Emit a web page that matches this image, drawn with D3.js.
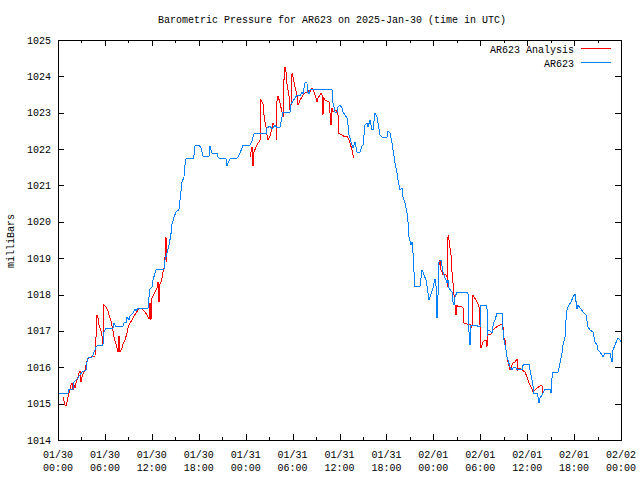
<!DOCTYPE html>
<html><head><meta charset="utf-8">
<script src="https://cdn.jsdelivr.net/npm/d3@7"></script>
<style>
body{margin:0;background:#fff}
svg{display:block}
text{font-family:"Liberation Mono","DejaVu Sans Mono",monospace;font-size:10px;fill:#000}
</style>
</head><body><svg id="c" width="640" height="480"></svg>
<script>
// ---- data (hours after 2025-01-30 00:00 UTC, pressure in mb) ----
const ar623Hours = [0.13,1.28,1.41,1.92,2.05,2.56,2.81,3.07,3.58,3.71,3.84,4.09,4.35,4.73,4.86,5.12,5.75,5.88,6.14,7.03,7.16,7.42,8.06,8.31,8.44,8.70,8.82,9.08,9.21,9.59,9.85,9.98,10.23,11.51,11.64,11.77,12.02,12.15,12.53,12.66,13.56,13.68,13.94,14.20,14.45,14.58,14.84,15.09,15.47,15.60,15.86,16.11,16.24,16.37,17.26,17.39,17.52,18.03,18.29,18.54,19.31,19.44,19.57,19.69,20.33,20.46,20.72,21.49,21.61,21.74,22.00,22.76,23.02,23.28,23.53,23.66,24.55,24.81,25.07,26.60,26.73,27.11,27.37,27.50,27.75,28.01,28.39,28.78,29.67,29.80,30.05,30.57,30.95,31.20,31.33,31.59,31.84,31.91,32.10,32.23,35.04,35.17,35.43,35.68,35.81,36.06,36.32,36.45,36.70,36.96,37.09,37.22,37.47,37.73,37.98,38.24,38.62,38.88,39.01,39.26,39.52,39.65,39.90,40.16,40.28,40.54,40.80,40.92,41.18,41.44,42.07,42.20,42.46,42.71,42.84,43.10,43.35,43.48,43.74,43.99,44.12,44.38,44.63,44.76,44.89,45.14,45.27,45.40,45.53,45.66,46.29,46.55,46.81,47.06,47.19,47.45,47.70,47.96,48.21,48.34,48.47,48.60,48.72,48.98,49.24,49.49,49.75,49.88,50.00,50.39,50.52,50.64,50.77,51.03,52.43,52.56,52.69,52.82,53.59,53.97,54.09,54.86,54.90,54.99,55.25,55.50,55.63,55.76,55.89,56.14,56.78,56.91,57.04,57.29,57.42,57.55,57.81,58.06,58.19,58.45,58.70,59.34,59.47,60.24,60.36,60.62,60.75,60.80,61.26,61.39,61.51,61.64,61.90,62.03,62.28,62.92,63.05,63.18,63.31,63.95,64.20,64.46,64.58,64.84,64.97,65.09,65.35,65.61,65.86,66.12,66.37,66.50,66.76,67.14,67.53,67.78,68.04,68.42,68.68,68.93,69.06,69.31,69.57,69.70,69.95,70.59,70.85,70.98,71.23,71.49,71.62,71.87,72.00];
const ar623Pressure = [1015.29,1015.29,1015.40,1015.40,1015.60,1015.71,1015.79,1015.87,1015.93,1016.15,1016.26,1016.28,1016.28,1016.48,1016.56,1016.61,1016.61,1016.97,1017.08,1017.08,1017.22,1017.11,1017.11,1017.14,1017.22,1017.22,1017.38,1017.30,1017.41,1017.49,1017.60,1017.55,1017.63,1017.63,1017.93,1018.15,1018.21,1018.40,1018.68,1018.70,1018.70,1018.95,1019.14,1019.36,1019.67,1019.94,1020.13,1020.27,1020.33,1020.60,1021.10,1021.23,1021.56,1021.73,1021.73,1021.84,1022.09,1022.11,1022.03,1021.81,1021.81,1022.09,1021.98,1021.89,1021.89,1021.78,1021.73,1021.73,1021.54,1021.62,1021.73,1021.73,1021.78,1021.89,1022.03,1022.11,1022.11,1022.22,1022.42,1022.42,1022.58,1022.64,1022.55,1022.58,1022.66,1022.58,1022.61,1023.02,1023.02,1023.24,1023.32,1023.49,1023.46,1023.57,1023.52,1023.82,1023.82,1023.57,1023.52,1023.63,1023.63,1023.27,1023.02,1023.02,1023.16,1023.21,1023.13,1023.02,1022.94,1022.86,1022.66,1022.39,1022.20,1022.03,1022.20,1021.92,1021.92,1022.09,1022.11,1022.66,1022.72,1022.61,1022.80,1022.53,1022.53,1022.99,1022.88,1022.72,1022.39,1022.33,1022.33,1022.50,1022.44,1022.17,1021.98,1021.62,1021.34,1021.15,1020.88,1020.93,1020.68,1020.52,1020.24,1020.00,1019.58,1019.36,1019.45,1019.14,1018.62,1018.21,1018.21,1018.68,1018.54,1018.40,1018.24,1017.85,1018.02,1018.18,1018.43,1018.26,1017.36,1017.99,1018.90,1018.95,1018.62,1018.46,1018.32,1018.40,1018.18,1018.07,1017.80,1017.71,1017.93,1018.07,1018.07,1016.97,1016.61,1017.16,1017.14,1017.11,1017.71,1017.71,1016.86,1017.00,1017.00,1016.94,1017.14,1017.25,1017.30,1017.49,1017.49,1017.03,1016.75,1016.48,1016.28,1016.20,1016.01,1015.93,1015.98,1016.01,1015.93,1015.93,1016.06,1016.09,1015.93,1015.65,1015.49,1015.29,1015.29,1015.18,1015.02,1015.16,1015.24,1015.29,1015.40,1015.40,1015.29,1015.73,1015.87,1015.87,1016.12,1016.39,1016.61,1016.83,1017.30,1017.58,1017.71,1017.80,1017.93,1018.02,1017.60,1017.71,1017.63,1017.52,1017.44,1017.11,1017.03,1016.97,1016.70,1016.61,1016.48,1016.42,1016.34,1016.28,1016.39,1016.39,1016.15,1016.48,1016.61,1016.75,1016.81,1016.75,1016.70];

const analysisHours1 = [0.64,0.90,1.02,1.15,1.28,1.53,1.66,1.79,1.92,2.05,2.17,2.30,2.56,2.69,2.81,2.94,3.07,3.20,3.45,3.58,3.71,3.84,3.96,4.22,4.73,4.86,4.99,5.12,5.24,5.50,5.63,5.75,5.88,6.14,6.39,6.52,6.78,7.03,7.16,7.42,7.67,7.80,7.93,8.18,8.31,8.57,8.82,8.95,9.21,9.46,9.72,9.98,10.23,10.49,10.74,11.13,11.38,11.64,11.77,11.89,12.02,12.15,12.41,12.66,12.79,12.92,12.98,13.17,13.30,13.43,13.56,13.68,13.81,13.87];
const analysisPressure1 = [1015.18,1014.96,1014.94,1015.05,1015.18,1015.38,1015.51,1015.57,1015.38,1015.51,1015.43,1015.57,1015.73,1015.84,1015.90,1015.60,1015.73,1015.82,1015.93,1016.06,1016.17,1016.23,1016.26,1016.28,1016.31,1016.83,1017.44,1017.36,1017.16,1017.00,1016.86,1016.64,1017.71,1017.66,1017.55,1017.44,1017.27,1017.00,1016.83,1016.64,1016.42,1016.86,1016.42,1016.53,1016.64,1016.75,1016.94,1017.08,1017.22,1017.30,1017.41,1017.49,1017.58,1017.63,1017.60,1017.52,1017.44,1017.33,1017.77,1017.30,1017.91,1017.96,1018.07,1018.18,1018.35,1017.80,1018.24,1018.35,1018.46,1018.62,1018.73,1019.01,1019.58,1018.90];
const analysisHours2 = [24.55,24.81,24.94,25.07,25.32,25.58,25.83,25.96,26.09,26.22,26.35,26.47,26.60,26.73,26.86,27.11,27.37,27.50,27.62,27.88,27.94,28.01,28.14,28.39,28.65,28.78,28.84,28.90,29.03,29.16,29.29,29.54,29.67,29.80,29.93,30.05,30.31,30.57,30.69,30.82,30.95,31.20,31.33,31.59,31.84,31.97,32.10,32.36,32.48,32.61,32.87,33.12,33.25,33.51,33.63,33.76,33.89,33.95,34.15,34.66,34.72,34.91,35.04,35.17,35.55,35.81,35.87,36.32,36.70,36.96,37.09,37.34,37.60,37.73,37.85];
const analysisPressure2 = [1021.78,1022.06,1021.54,1021.92,1022.06,1022.17,1022.22,1023.35,1023.30,1023.24,1022.94,1022.75,1022.61,1022.39,1022.25,1022.36,1022.58,1022.72,1022.66,1022.66,1022.25,1023.35,1023.46,1023.27,1023.02,1022.88,1023.13,1023.90,1024.26,1024.12,1023.79,1023.46,1023.08,1023.21,1024.09,1023.98,1023.71,1023.49,1023.21,1023.27,1023.35,1023.43,1023.49,1023.54,1023.57,1023.63,1023.52,1023.63,1023.68,1023.63,1023.49,1023.30,1023.41,1023.49,1023.54,1023.49,1022.94,1023.41,1023.35,1023.30,1023.19,1022.66,1023.13,1023.02,1023.08,1022.94,1022.44,1022.39,1022.33,1022.36,1022.31,1022.17,1021.98,1021.84,1021.76];
const analysisHours3 = [48.72,48.85,48.98,49.11,49.24,49.62,49.75,49.81,49.88,50.00,50.13,50.26,50.39,50.52,50.64,50.77,50.90,51.03,51.16,51.67,51.80,51.92,52.31,52.69,52.82,52.95,53.07,53.20,53.46,53.59,53.84,53.97,54.09,54.35,54.61,54.74,54.86,54.93,55.25,55.50,55.63,55.89,56.27,56.53,56.78,56.91,56.97,57.17,57.29,57.42,57.55,57.81,58.06,58.19,58.45,58.70,58.76,58.95,59.34,59.72,59.98,60.10,60.36,60.62,60.75,61.00,61.26,61.64,61.90,61.96];
const analysisPressure3 = [1018.81,1018.95,1018.68,1018.62,1018.54,1018.54,1018.48,1018.21,1019.64,1019.50,1019.28,1019.09,1018.62,1018.32,1017.99,1017.71,1017.44,1017.71,1017.66,1017.66,1017.63,1017.22,1017.19,1017.19,1017.08,1017.16,1017.99,1017.93,1017.85,1017.80,1017.66,1017.16,1016.53,1016.70,1016.75,1016.75,1016.56,1016.89,1016.89,1016.94,1017.03,1017.08,1017.14,1017.16,1017.19,1017.11,1016.83,1016.75,1016.48,1016.28,1016.15,1015.93,1016.06,1016.12,1016.15,1016.23,1015.93,1015.98,1015.93,1015.87,1015.73,1015.65,1015.51,1015.40,1015.32,1015.38,1015.43,1015.49,1015.49,1015.24];

const majorTickHours = [0,6,12,18,24,30,36,42,48,54,60,66,72];
const minorTickHours = [3,9,15,21,27,33,39,45,51,57,63,69];
const dateLabels = ["01/30","01/30","01/30","01/30","01/31","01/31","01/31","01/31","02/01","02/01","02/01","02/01","02/02"];
const timeLabels = ["00:00","06:00","12:00","18:00","00:00","06:00","12:00","18:00","00:00","06:00","12:00","18:00","00:00"];
const pressureTicks = [1014,1015,1016,1017,1018,1019,1020,1021,1022,1023,1024,1025];
const seriesNames = ["AR623 Analysis","AR623"];
const seriesColors = ["#ff0000","#0080ff"];
const titleText = "Barometric Pressure for AR623 on 2025-Jan-30 (time in UTC)";
const yAxisTitle = "milliBars";

// ---- drawing ----
const svg = d3.select("#c");
svg.append("rect").attr("width",640).attr("height",480).attr("fill","#fff");
const L=58,R=621,T=40,B=440;
const x = d3.scaleLinear().domain([0,72]).range([L,R]);
const y = d3.scaleLinear().domain([1014,1025]).range([B,T]);

function axisG(axis, tx, ty){
  const g = svg.append("g").attr("transform",`translate(${tx},${ty})`).call(axis);
  g.select(".domain").remove();
  g.selectAll("text").remove();
  g.selectAll("line").attr("stroke","#000").attr("shape-rendering","crispEdges");
  return g;
}
axisG(d3.axisBottom(x).tickValues(majorTickHours).tickSize(-6).tickFormat(""),0,B);
axisG(d3.axisBottom(x).tickValues(minorTickHours).tickSize(-3).tickFormat(""),0,B);
axisG(d3.axisTop(x).tickValues(majorTickHours).tickSize(-6).tickFormat(""),0,T);
axisG(d3.axisTop(x).tickValues(minorTickHours).tickSize(-3).tickFormat(""),0,T);
axisG(d3.axisLeft(y).tickValues(pressureTicks).tickSize(-6).tickFormat(""),L,0);
axisG(d3.axisRight(y).tickValues(pressureTicks).tickSize(-6).tickFormat(""),R,0);

svg.append("rect").attr("x",L+0.5).attr("y",T+0.5).attr("width",R-L).attr("height",B-T)
  .attr("fill","none").attr("stroke","#000").attr("shape-rendering","crispEdges");

// y labels
svg.append("g").selectAll("text").data(pressureTicks).join("text")
  .attr("x",51).attr("y",d=>y(d)).attr("dy","0.35em").attr("text-anchor","end").text(d=>d);
// x labels
const xl = svg.append("g");
xl.selectAll("text.d").data(majorTickHours).join("text").attr("class","d")
  .attr("x",d=>x(d)).attr("y",458).attr("text-anchor","middle").text((d,i)=>dateLabels[i]);
xl.selectAll("text.t").data(majorTickHours).join("text").attr("class","t")
  .attr("x",d=>x(d)).attr("y",471).attr("text-anchor","middle").text((d,i)=>timeLabels[i]);

svg.append("text").attr("x",332).attr("y",19).attr("dy","0.35em").attr("text-anchor","middle").text(titleText);
svg.append("text").attr("transform","translate(10,241) rotate(-90)").attr("dy","0.35em")
  .attr("text-anchor","middle").text(yAxisTitle);

const line = d3.line().x(d=>x(d[0])).y(d=>y(d[1]));
const plotG = svg.append("g");
const analysisSegments = [
  d3.zip(analysisHours1, analysisPressure1),
  d3.zip(analysisHours2, analysisPressure2),
  d3.zip(analysisHours3, analysisPressure3)
];
plotG.selectAll("path.an").data(analysisSegments).join("path").attr("class","an")
  .attr("d",line).attr("fill","none").attr("stroke",seriesColors[0]).attr("stroke-width",1)
  .attr("shape-rendering","crispEdges");
plotG.append("path").datum(d3.zip(ar623Hours, ar623Pressure))
  .attr("d",line).attr("fill","none").attr("stroke",seriesColors[1]).attr("stroke-width",1)
  .attr("shape-rendering","crispEdges");

// legend
const lg = svg.append("g");
[0,1].forEach(i=>{
  const ly = 49 + i*14;
  lg.append("text").attr("x",574).attr("y",ly).attr("dy","0.35em").attr("text-anchor","end").text(seriesNames[i]);
  lg.append("line").attr("x1",581).attr("x2",611).attr("y1",ly-0.5).attr("y2",ly-0.5)
    .attr("stroke",seriesColors[i]).attr("shape-rendering","crispEdges");
});
</script>
</body></html>
